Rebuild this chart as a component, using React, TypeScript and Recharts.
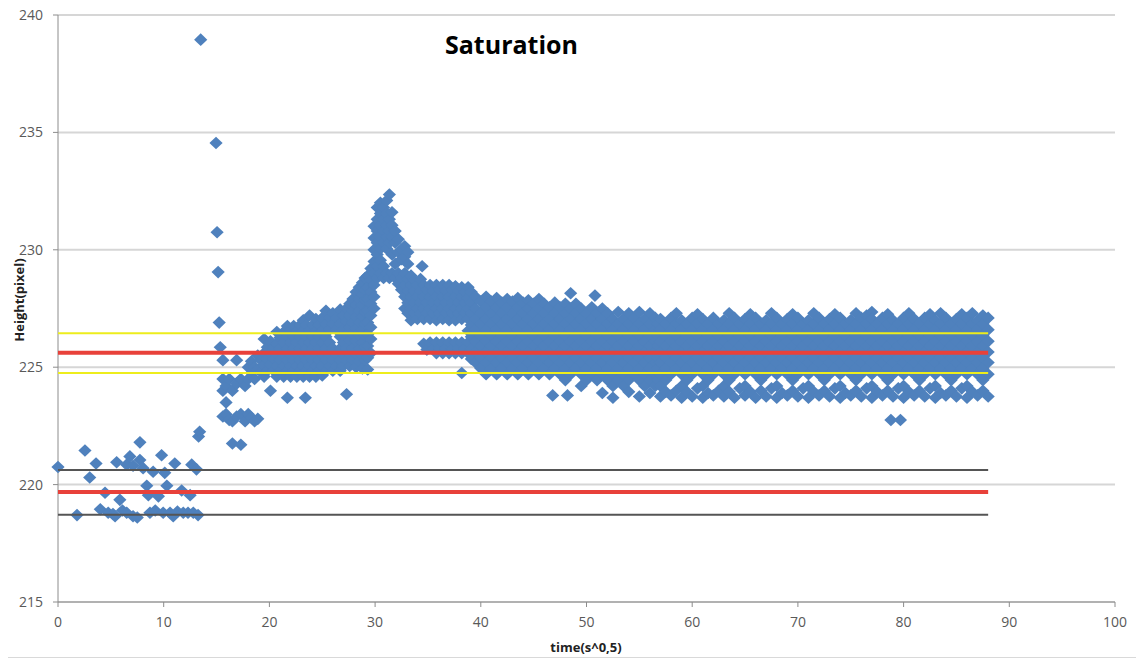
import { ScatterChart, Scatter, XAxis, YAxis, CartesianGrid } from "recharts";

// isolated points before the rise (x = time^0.5, y = height in pixels)
const earlyPoints: [number, number][] = [
  [0.0, 220.75], [1.8, 218.7], [2.55, 221.45], [3.0, 220.3], [3.6, 220.9],
  [4.0, 218.95], [4.45, 219.65], [4.75, 218.8], [5.2, 218.75], [5.4, 218.65],
  [5.55, 220.95], [5.85, 219.35], [6.1, 218.9], [6.5, 220.85], [6.5, 218.8],
  [6.8, 221.2], [7.1, 218.65], [7.1, 220.8], [7.5, 218.6], [7.75, 221.8],
  [7.75, 221.05], [8.05, 220.7], [8.4, 219.95], [8.55, 219.55], [8.7, 218.8],
  [9.0, 220.55], [9.2, 218.9], [9.5, 219.5], [9.8, 221.25], [9.95, 218.8],
  [10.1, 220.5], [10.3, 219.95], [10.6, 218.8], [10.9, 218.65], [11.05, 220.9],
  [11.3, 218.85], [11.7, 219.75], [11.85, 218.8], [12.3, 218.8], [12.5, 219.55],
  [12.65, 220.85], [12.8, 218.8], [13.1, 220.65], [13.25, 218.7], [13.3, 222.05],
  [13.4, 222.25],
];

const spikePoints: [number, number][] = [
  [13.5, 238.95], [14.95, 234.55], [15.05, 230.75], [15.15, 229.05],
  [15.25, 226.9], [15.35, 225.85],
];

// columns: [x, heights read at that x]
const riseColumns: [number, number[]][] = [
  [15.6, [225.3, 224.5, 224.0, 222.9]],
  [15.9, [224.2, 223.5, 223.0]],
  [16.2, [224.5, 222.75]],
  [16.5, [224.0, 222.7, 221.75]],
  [16.9, [225.3, 224.3, 222.9]],
  [17.3, [224.5, 223.0, 221.7]],
  [17.7, [224.2, 222.7]],
  [18.0, [225.0, 224.5, 223.0]],
  [18.3, [225.25, 224.75, 222.85]],
  [18.6, [225.0, 224.5, 222.7]],
  [18.9, [225.5, 224.9, 222.8]],
  [19.2, [225.3, 224.8]],
  [19.5, [226.2, 225.6, 225.1, 224.6]],
  [19.8, [225.85, 225.35, 224.85]],
  [20.1, [226.1, 225.6, 225.1, 224.0]],
  [20.4, [225.85, 225.35, 224.85]],
  [20.7, [226.5, 226.0, 225.55, 225.05, 224.6]],
  [21.0, [226.25, 225.8, 225.3, 224.85]],
  [21.35, [226.5, 226.05, 225.55, 225.05, 224.6]],
  [21.7, [226.75, 226.3, 225.8, 225.3, 224.85, 223.7]],
  [22.0, [226.55, 226.05, 225.55, 225.05, 224.6]],
  [22.3, [226.75, 226.3, 225.8, 225.3, 224.85]],
  [22.6, [226.55, 226.05, 225.55, 225.05, 224.6]],
  [22.9, [226.8, 226.3, 225.8, 225.3, 224.85]],
  [23.2, [227.0, 226.55, 226.05, 225.55, 225.05, 224.6]],
  [23.4, [223.7]],
  [23.5, [226.8, 226.3, 225.8, 225.3, 224.85]],
  [23.8, [227.2, 226.55, 226.05, 225.55, 225.05, 224.6]],
  [24.1, [226.8, 226.3, 225.8, 225.3, 224.85]],
  [24.4, [227.05, 226.55, 226.05, 225.55, 225.05, 224.6]],
  [24.7, [226.8, 226.3, 225.8, 225.3, 224.85]],
  [25.0, [227.1, 226.55, 226.05, 225.55, 225.05, 224.65]],
  [25.35, [227.4, 226.85, 226.3, 225.8, 225.3, 224.85]],
  [25.7, [227.1, 226.6, 226.05, 225.55, 225.05]],
  [26.0, [227.3, 226.85, 225.8, 225.3, 224.85]],
  [26.35, [227.1, 226.6, 225.55, 225.05]],
  [26.7, [227.45, 226.85, 226.3, 225.8, 225.3, 224.85]],
  [27.0, [227.2, 226.6, 226.05, 225.55, 225.05]],
  [27.3, [227.5, 226.95, 226.4, 225.8, 225.3, 223.85]],
  [27.6, [227.7, 227.2, 226.7, 226.15, 225.55, 225.05]],
  [27.9, [227.9, 227.4, 226.9, 226.4, 225.8, 225.3]],
  [28.2, [228.2, 227.65, 227.15, 226.65, 226.1, 225.55, 225.0]],
  [28.5, [228.4, 227.9, 227.4, 226.9, 226.35, 225.8, 225.25]],
  [28.8, [228.6, 228.1, 227.65, 227.15, 226.6, 226.05, 225.5, 224.95]],
  [29.05, [228.8, 228.3, 227.85, 227.35, 226.85, 226.35, 225.85, 225.3]],
];

const peakColumns: [number, number[]][] = [
  [29.3, [228.9, 228.4, 227.9, 227.4, 226.9, 226.4, 225.9, 225.4, 224.9]],
  [29.6, [229.2, 228.7, 228.2, 227.7, 227.2, 226.7, 226.2, 225.6]],
  [29.9, [229.5, 229.0, 228.5, 228.0, 227.5, 230.0, 230.5, 231.0]],
  [30.2, [228.8, 229.3, 229.8, 230.3, 230.8, 231.3, 231.8]],
  [30.5, [229.0, 229.55, 230.05, 230.55, 231.05, 231.55, 232.0]],
  [30.8, [228.8, 229.3, 230.3, 230.8, 231.3, 231.8]],
  [31.1, [229.0, 230.05, 230.55, 231.05, 231.55, 232.1]],
  [31.35, [228.8, 230.3, 230.8, 231.3, 232.35]],
  [31.6, [229.0, 229.8, 230.55, 231.05, 231.6]],
  [31.9, [228.8, 229.4, 230.3, 230.8]],
  [32.2, [229.0, 228.55, 229.9, 230.45]],
  [32.5, [228.8, 228.3, 229.6, 230.0]],
  [32.8, [229.0, 228.5, 228.0, 227.5, 229.7, 230.15]],
  [33.1, [228.75, 228.25, 227.75, 227.3, 229.4, 229.9]],
  [33.4, [228.9, 228.5, 228.0, 227.5, 227.0]],
  [33.7, [228.7, 228.25, 227.75, 227.3]],
  [34.0, [228.5, 228.0, 227.5, 227.05]],
  [34.3, [228.75, 228.25, 227.75, 227.3]],
  [34.45, [229.3]],
  [34.6, [228.5, 228.0, 227.5, 227.05, 226.0]],
  [34.9, [228.3, 227.75, 227.3, 225.75]],
  [35.2, [228.5, 228.0, 227.5, 227.05, 226.05]],
  [35.5, [228.25, 227.75, 227.3, 225.8]],
  [35.8, [228.5, 228.0, 227.5, 227.0, 226.05, 225.6]],
  [36.1, [228.3, 227.75, 227.3, 225.8]],
  [36.4, [228.5, 228.0, 227.5, 227.05, 226.05, 225.6]],
  [36.7, [228.25, 227.75, 227.3, 225.8]],
  [37.0, [228.5, 228.0, 227.5, 227.0, 226.05, 225.6]],
  [37.3, [228.3, 227.75, 227.3, 225.8]],
  [37.6, [228.45, 228.0, 227.5, 227.0, 226.05, 225.6]],
  [37.9, [228.25, 227.75, 227.3, 225.8]],
  [38.2, [228.4, 228.0, 227.5, 227.05, 226.05, 225.6, 224.75]],
  [38.5, [228.2, 227.75, 227.3, 225.8]],
  [38.8, [228.4, 227.95, 227.5, 227.05, 226.55, 226.05, 225.6]],
  [39.1, [228.2, 227.75, 227.3, 226.8, 226.3, 225.8, 225.35]],
];

const bandColumnsA: [number, number[]][] = [
  [39.5, [228.0, 227.5, 227.05, 226.6, 226.1, 225.65, 225.2]],
  [40.0, [227.8, 227.3, 226.85, 226.35, 225.9, 225.4, 224.95]],
  [40.5, [228.0, 227.55, 227.05, 226.6, 226.1, 225.65, 225.2, 224.7]],
  [41.0, [227.8, 227.3, 226.85, 226.35, 225.9, 225.4, 224.95]],
  [41.5, [227.95, 227.55, 227.05, 226.6, 226.1, 225.65, 225.2, 224.7]],
  [42.0, [227.75, 227.3, 226.85, 226.35, 225.9, 225.4, 224.95]],
  [42.5, [227.9, 227.55, 227.05, 226.6, 226.1, 225.65, 225.2, 224.7]],
  [43.0, [227.8, 227.3, 226.85, 226.35, 225.9, 225.4, 224.95]],
  [43.5, [227.95, 227.55, 227.05, 226.6, 226.1, 225.65, 225.2, 224.7]],
  [44.0, [227.75, 227.3, 226.85, 226.35, 225.9, 225.4, 224.95]],
  [44.5, [227.85, 227.5, 227.05, 226.6, 226.1, 225.65, 225.2, 224.7]],
  [45.0, [227.7, 227.3, 226.85, 226.35, 225.9, 225.4, 224.95]],
  [45.5, [227.9, 227.5, 227.05, 226.6, 226.1, 225.65, 225.2, 224.7]],
  [46.0, [227.7, 227.3, 226.85, 226.35, 225.9, 225.4, 224.95]],
  [46.5, [227.55, 227.05, 226.6, 226.1, 225.65, 225.2, 224.7]],
  [46.8, [223.8]],
  [47.0, [227.75, 227.3, 226.85, 226.35, 225.9, 225.4, 224.95]],
  [47.5, [227.55, 227.05, 226.6, 226.1, 225.65, 225.2, 224.7]],
  [48.0, [227.7, 227.3, 226.85, 226.35, 225.9, 225.4, 224.95, 224.45]],
  [48.2, [223.8]],
  [48.5, [228.15, 227.5, 227.05, 226.6, 226.1, 225.65, 225.2, 224.7]],
  [49.0, [227.7, 227.3, 226.85, 226.35, 225.9, 225.4, 224.95]],
  [49.5, [227.5, 227.05, 226.6, 226.1, 225.65, 225.2, 224.7, 224.2]],
  [50.0, [227.3, 226.85, 226.35, 225.9, 225.4, 224.95, 224.45]],
  [50.5, [227.55, 227.05, 226.6, 226.1, 225.65, 225.2, 224.7]],
  [50.8, [228.05]],
  [51.0, [227.3, 226.85, 226.35, 225.9, 225.4, 224.95, 224.45]],
  [51.5, [227.5, 227.05, 226.6, 226.1, 225.65, 225.2, 224.7, 223.9]],
  [52.0, [227.3, 226.85, 226.35, 225.9, 225.4, 224.95, 224.45]],
  [52.5, [227.05, 226.6, 226.1, 225.65, 225.2, 224.7, 224.2, 223.7]],
  [53.0, [227.35, 226.85, 226.35, 225.9, 225.4, 224.95, 224.45]],
  [53.5, [227.05, 226.6, 226.1, 225.65, 225.2, 224.7, 224.2]],
  [54.0, [227.3, 226.85, 226.35, 225.9, 225.4, 224.95, 224.45, 223.95]],
  [54.5, [227.1, 226.6, 226.1, 225.65, 225.2, 224.7]],
  [55.0, [227.35, 226.85, 226.35, 225.9, 225.4, 224.95, 224.45, 223.75]],
  [55.5, [227.05, 226.6, 226.1, 225.65, 225.2, 224.7, 224.2]],
  [56.0, [227.3, 226.85, 226.35, 225.9, 225.4, 224.95, 224.45, 223.9]],
  [56.5, [227.1, 226.6, 226.1, 225.65, 225.2, 224.7, 224.2]],
  [56.75, [226.85, 226.35, 225.9, 225.4, 224.95, 224.45]],
];

const bandColumnsB: [number, number[]][] = [
  [57.0, [227.05, 226.6, 226.1, 225.65, 225.2, 224.7, 224.2, 223.75]],
  [57.5, [226.85, 226.35, 225.9, 225.4, 224.95, 224.45, 223.95]],
  [58.0, [227.1, 226.6, 226.1, 225.65, 225.2, 224.7, 223.8]],
  [58.5, [227.3, 226.85, 226.35, 225.9, 225.4, 224.95, 224.0]],
  [59.0, [227.0, 226.6, 226.1, 225.65, 225.2, 224.7, 224.2, 223.7]],
  [59.5, [226.85, 226.35, 225.9, 225.4, 224.95, 224.45, 223.95]],
  [60.0, [227.1, 226.6, 226.1, 225.65, 225.2, 224.7, 223.75]],
  [60.5, [227.25, 226.85, 226.35, 225.9, 225.4, 224.95, 224.1]],
  [61.0, [227.05, 226.6, 226.1, 225.65, 225.2, 224.7, 224.2, 223.7]],
  [61.5, [226.85, 226.35, 225.9, 225.4, 224.95, 224.45, 223.9]],
  [62.0, [227.1, 226.6, 226.1, 225.65, 225.2, 224.7, 223.8]],
  [62.5, [226.85, 226.35, 225.9, 225.4, 224.95, 224.0]],
  [63.0, [227.0, 226.6, 226.1, 225.65, 225.2, 224.7, 224.2, 223.75]],
  [63.5, [227.3, 226.85, 226.35, 225.9, 225.4, 224.95, 224.45, 223.95]],
  [64.0, [227.1, 226.6, 226.1, 225.65, 225.2, 224.7, 223.7]],
  [64.5, [226.85, 226.35, 225.9, 225.4, 224.95, 224.1]],
  [65.0, [227.05, 226.6, 226.1, 225.65, 225.2, 224.7, 224.2, 223.8]],
  [65.5, [227.25, 226.85, 226.35, 225.9, 225.4, 224.95, 223.95]],
  [66.0, [227.1, 226.6, 226.1, 225.65, 225.2, 224.7, 223.7]],
  [66.5, [226.85, 226.35, 225.9, 225.4, 224.95, 224.45, 224.0]],
  [67.0, [227.0, 226.6, 226.1, 225.65, 225.2, 224.7, 223.75]],
  [67.5, [227.3, 226.85, 226.35, 225.9, 225.4, 224.95, 224.1]],
  [68.0, [227.1, 226.6, 226.1, 225.65, 225.2, 224.7, 224.2, 223.7]],
  [68.5, [226.85, 226.35, 225.9, 225.4, 224.95, 223.9]],
  [69.0, [227.05, 226.6, 226.1, 225.65, 225.2, 224.7, 223.8]],
  [69.5, [227.25, 226.85, 226.35, 225.9, 225.4, 224.95, 224.45, 224.0]],
  [70.0, [227.1, 226.6, 226.1, 225.65, 225.2, 224.7, 223.75]],
  [70.5, [226.85, 226.35, 225.9, 225.4, 224.95, 224.1]],
  [71.0, [227.0, 226.6, 226.1, 225.65, 225.2, 224.7, 224.2, 223.7]],
  [71.5, [227.3, 226.85, 226.35, 225.9, 225.4, 224.95, 223.95]],
  [72.0, [227.1, 226.6, 226.1, 225.65, 225.2, 224.7, 223.8]],
  [72.5, [226.85, 226.35, 225.9, 225.4, 224.95, 224.45, 224.0]],
  [73.0, [227.05, 226.6, 226.1, 225.65, 225.2, 224.7, 223.75]],
  [73.5, [227.25, 226.85, 226.35, 225.9, 225.4, 224.95, 224.1]],
  [74.0, [227.1, 226.6, 226.1, 225.65, 225.2, 224.7, 224.2, 223.7]],
  [74.5, [226.85, 226.35, 225.9, 225.4, 224.95, 223.9]],
  [75.0, [227.0, 226.6, 226.1, 225.65, 225.2, 224.7, 223.8]],
  [75.5, [227.3, 226.85, 226.35, 225.9, 225.4, 224.95, 224.45, 224.0]],
  [76.0, [227.1, 226.6, 226.1, 225.65, 225.2, 224.7, 223.75]],
  [76.5, [227.2, 226.85, 226.35, 225.9, 225.4, 224.95, 224.1]],
  [77.0, [227.35, 227.05, 226.6, 226.1, 225.65, 225.2, 224.7, 224.2, 223.7]],
  [77.5, [226.85, 226.35, 225.9, 225.4, 224.95, 223.95]],
  [78.0, [227.1, 226.6, 226.1, 225.65, 225.2, 224.7, 223.8]],
  [78.5, [227.25, 226.85, 226.35, 225.9, 225.4, 224.95, 224.45, 224.0]],
  [78.8, [222.75]],
  [79.0, [227.0, 226.6, 226.1, 225.65, 225.2, 224.7, 223.75]],
  [79.5, [226.85, 226.35, 225.9, 225.4, 224.95, 224.1]],
  [79.7, [222.75]],
  [80.0, [227.1, 226.6, 226.1, 225.65, 225.2, 224.7, 224.2, 223.7]],
  [80.5, [227.3, 226.85, 226.35, 225.9, 225.4, 224.95, 223.95]],
  [81.0, [227.05, 226.6, 226.1, 225.65, 225.2, 224.7, 223.8]],
  [81.5, [226.85, 226.35, 225.9, 225.4, 224.95, 224.45, 224.0]],
  [82.0, [227.1, 226.6, 226.1, 225.65, 225.2, 224.7, 223.75]],
  [82.5, [227.25, 226.85, 226.35, 225.9, 225.4, 224.95, 224.1]],
  [83.0, [227.0, 226.6, 226.1, 225.65, 225.2, 224.7, 224.2, 223.7]],
  [83.5, [227.3, 226.85, 226.35, 225.9, 225.4, 224.95, 223.9]],
  [84.0, [227.1, 226.6, 226.1, 225.65, 225.2, 224.7, 223.8]],
  [84.5, [226.85, 226.35, 225.9, 225.4, 224.95, 224.45, 224.0]],
  [85.0, [227.05, 226.6, 226.1, 225.65, 225.2, 224.7, 223.75]],
  [85.5, [227.25, 226.85, 226.35, 225.9, 225.4, 224.95, 224.1]],
  [86.0, [227.1, 226.6, 226.1, 225.65, 225.2, 224.7, 224.2, 223.7]],
  [86.5, [227.3, 226.85, 226.35, 225.9, 225.4, 224.95, 223.95]],
  [87.0, [227.0, 226.6, 226.1, 225.65, 225.2, 224.7, 223.8]],
  [87.5, [227.2, 226.85, 226.35, 225.9, 225.4, 224.95, 224.45, 224.0]],
  [88.0, [227.1, 226.6, 226.1, 225.65, 225.2, 224.7, 223.75]],
];

// horizontal level lines drawn over the scatter
const lineSpan = [0, 88];
const yellowLevels = [226.45, 224.75];
const redLevels = [225.62, 219.68];
const blackLevels = [220.62, 218.72];

const xTicks = [0, 10, 20, 30, 40, 50, 60, 70, 80, 90, 100];
const yTicks = [215, 220, 225, 230, 235, 240];

const points = [
  ...earlyPoints,
  ...spikePoints,
  ...[...riseColumns, ...peakColumns, ...bandColumnsA, ...bandColumnsB].flatMap(
    ([x, ys]) => ys.map((y) => [x, y] as [number, number])
  ),
].map(([x, y]) => ({ x, y }));

const levelLine = (y: number) => lineSpan.map((x) => ({ x, y }));

const Diamond = (props: any) => {
  const { cx, cy } = props;
  if (cx == null || cy == null) return <g />;
  return (
    <path
      d={`M${cx},${cy - 6.3}L${cx + 6.6},${cy}L${cx},${cy + 6.3}L${cx - 6.6},${cy}Z`}
      fill="#4f81bd"
    />
  );
};

const NoDot = () => <g />;

const tickStyle = { fill: "#595959", fontSize: 14, fontFamily: "Open Sans" };

export default function App() {
  return (
    <div
      style={{
        position: "absolute",
        left: 0,
        top: 0,
        width: 1136,
        height: 659,
        background: "#fff",
        fontFamily: "Open Sans",
      }}
    >
      <ScatterChart
        width={1136}
        height={659}
        margin={{ top: 15, right: 21, bottom: 27, left: 18 }}
      >
        <CartesianGrid vertical={false} stroke="#d6d6d6" strokeWidth={2} />
        <XAxis
          type="number"
          dataKey="x"
          domain={[0, 100]}
          ticks={xTicks}
          height={30}
          tickSize={5}
          tickMargin={10}
          stroke="#8c8c8c"
          tick={tickStyle}
          interval={0}
        />
        <YAxis
          type="number"
          dataKey="y"
          domain={[215, 240]}
          ticks={yTicks}
          width={40}
          tickSize={5}
          tickMargin={10}
          stroke="#8c8c8c"
          tick={tickStyle}
          interval={0}
        />
        <Scatter data={points} shape={Diamond} isAnimationActive={false} />
        {yellowLevels.map((y) => (
          <Scatter
            key={`yl${y}`}
            data={levelLine(y)}
            line={{ stroke: "#eded1c", strokeWidth: 2 }}
            shape={NoDot}
            isAnimationActive={false}
          />
        ))}
        {redLevels.map((y) => (
          <Scatter
            key={`rd${y}`}
            data={levelLine(y)}
            line={{ stroke: "#e8413a", strokeWidth: 4 }}
            shape={NoDot}
            isAnimationActive={false}
          />
        ))}
        {blackLevels.map((y) => (
          <Scatter
            key={`bk${y}`}
            data={levelLine(y)}
            line={{ stroke: "#555555", strokeWidth: 2 }}
            shape={NoDot}
            isAnimationActive={false}
          />
        ))}
      </ScatterChart>
      <div
        style={{
          position: "absolute",
          left: 445,
          top: 32,
          fontSize: 25,
          lineHeight: "25px",
          fontWeight: 700,
          color: "#000",
          whiteSpace: "nowrap",
        }}
      >
        Saturation
      </div>
      <div
        style={{
          position: "absolute",
          left: 486,
          top: 641,
          width: 200,
          textAlign: "center",
          fontSize: 13,
          lineHeight: "13px",
          fontWeight: 700,
          color: "#222",
        }}
      >
        time(s^0,5)
      </div>
      <div
        style={{
          position: "absolute",
          left: 19,
          top: 300,
          width: 0,
          height: 0,
        }}
      >
        <div
          style={{
            position: "absolute",
            left: -60,
            top: -7,
            width: 120,
            textAlign: "center",
            fontSize: 13,
            lineHeight: "14px",
            fontWeight: 700,
            color: "#222",
            transform: "rotate(-90deg)",
            whiteSpace: "nowrap",
          }}
        >
          Height(pixel)
        </div>
      </div>
      <div
        style={{
          position: "absolute",
          left: 8,
          top: 657,
          width: 1128,
          height: 1,
          background: "#d9d9d9",
        }}
      />
    </div>
  );
}
